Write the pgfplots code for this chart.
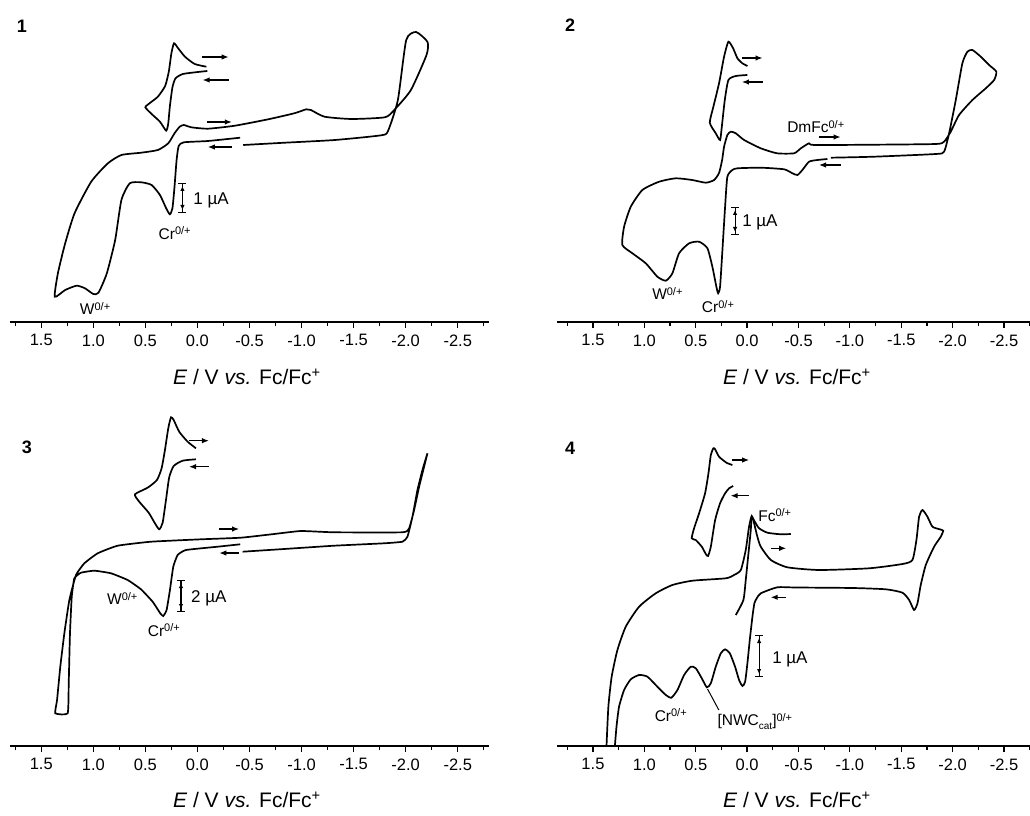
\documentclass[border=0pt]{standalone}
\usepackage{pgfplots}
\pgfplotsset{compat=1.18}
\usepackage{fontspec}
\setmainfont{Liberation Sans}
\usetikzlibrary{arrows.meta}

\pgfplotsset{
 cvaxis/.style={
  scale only axis,
  x dir=reverse,
  xmin=-2.8,
  axis x line=bottom,
  axis y line=none,
  x axis line style={-, line width=1.3pt},
  xtick={-2.5,-2,-1.5,-1,-0.5,0,0.5,1,1.5},
  xticklabels={-2.5,-2.0,-1.5,-1.0,-0.5,0.0,0.5,1.0,1.5},
  minor xtick={-2.75,-2.25,-1.75,-1.25,-0.75,-0.25,0.25,0.75,1.25,1.75},
  tick align=outside,
  major tick length=6pt, minor tick length=4pt,
  every tick/.style={line width=1.2pt, black},
  xticklabel style={font=\fontsize{16.5}{19}\selectfont, yshift=-3pt},
  ymin=0,
 },
 cv/.style={line width=1.7pt, black, smooth, tension=0.35, mark=none},
}
\tikzset{
 arr/.style={-{Latex[length=7pt,width=5.5pt]}, line width=1.2pt},
 lab/.style={anchor=west, font=\fontsize{15.5}{17}\selectfont, inner sep=0pt},
 bar/.style={{Bar[width=8pt]}-{Bar[width=8pt]}, line width=1.1pt},
 barh/.style={{Latex[length=5pt,width=4.5pt]}-{Latex[length=5pt,width=4.5pt]}, line width=1.1pt},
 ua/.style={anchor=west, font=\fontsize{17}{19}\selectfont, inner sep=0pt},
}
\newcommand{\etitle}{{\itshape E} / V {\itshape vs.} Fc/Fc\textsuperscript{+}}
\newcommand{\supx}[1]{\raisebox{0.55ex}{\fontsize{11}{12}\selectfont #1}}

\begin{document}
\begin{tikzpicture}[x=1pt,y=1pt]
\useasboundingbox (0,0) rectangle (1030,815);

% ---------------- Panel 1 ----------------
\begin{axis}[cvaxis, at={(10pt,493pt)}, xmax=1.8, width=479pt, ymax=300, height=300pt]
\addplot[cv] coordinates {(-0.44,177) (-0.84,179.3) (-1.32,182) (-1.765,186.7) (-1.83,191) (-1.925,222) (-2.005,282) (-2.10,290) (-2.21,280) (-2.20,267) (-2.05,232) (-1.89,212) (-1.80,204.7) (-1.48,203) (-1.22,205.3) (-1.09,212) (-1.045,212.7) (-0.93,208.7) (-0.68,202.7) (-0.36,196.3) (-0.10,193.3) (0.06,194.7) (0.13,197) (0.17,195.3) (0.22,188.7) (0.28,178.7) (0.38,172) (0.54,169.3) (0.73,167) (0.86,158.7) (1.02,140.3) (1.18,108.7) (1.27,78.7) (1.34,48.7) (1.37,25.3) (1.27,32) (1.16,36.3) (1.08,33.7) (1.00,28) (0.95,29.3) (0.87,48.7) (0.79,82) (0.73,122) (0.65,138.7) (0.54,139.7) (0.44,137) (0.36,127) (0.30,113.7) (0.265,107.7) (0.24,113.7) (0.22,135.3) (0.20,162) (0.18,176) (0.13,179.7) (-0.10,181) (-0.41,184.3)};
\addplot[cv] coordinates {(-0.086,255.3) (0.026,258) (0.12,265.3) (0.185,273.7) (0.225,278.7) (0.25,268.7) (0.275,250.3) (0.31,236) (0.38,225.3) (0.46,218.7) (0.50,214.7) (0.44,208) (0.36,200.3) (0.30,191.3) (0.28,198.7) (0.265,215.3) (0.24,234.7) (0.21,243.7) (0.14,248) (-0.005,250) (-0.095,251)};
\draw[arr] (axis cs:-0.04,265) -- (axis cs:-0.30,265);
\draw[arr] (axis cs:-0.30,242) -- (axis cs:-0.05,242);
\draw[arr] (axis cs:-0.09,200) -- (axis cs:-0.33,200);
\draw[arr] (axis cs:-0.33,175) -- (axis cs:-0.10,175);
\draw[bar] (axis cs:0.144,108.7) -- (axis cs:0.144,139.3);
\draw[barh] (axis cs:0.144,112) -- (axis cs:0.144,136);
\node[ua] at (axis cs:0.04,122) {1 µA};
\node[lab] at (axis cs:0.374,88.7) {Cr\supx{0/+}};
\node[lab] at (axis cs:1.13,13.7) {W\supx{0/+}};
\end{axis}

% ---------------- Panel 2 ----------------
\begin{axis}[cvaxis, at={(557pt,493pt)}, xmax=1.85, width=477.8pt, ymax=300, height=300pt]
\addplot[cv] coordinates {(-0.815,164.3) (-1.236,165.3) (-1.836,168) (-1.917,170.3) (-1.966,188.7) (-2.031,222) (-2.095,258.7) (-2.144,270.3) (-2.193,272) (-2.274,265.3) (-2.355,257) (-2.426,250.3) (-2.404,242) (-2.323,233.7) (-2.193,222) (-2.063,207) (-1.982,190.3) (-1.917,180.3) (-1.836,178) (-1.236,177.3) (-0.652,177) (-0.603,178.7) (-0.523,173.7) (-0.457,168.7) (-0.292,168.7) (-0.133,173.7) (0.029,182) (0.110,188.7) (0.159,190.3) (0.192,187) (0.224,175.3) (0.243,162) (0.273,149) (0.321,142) (0.402,139.3) (0.535,142) (0.694,143.7) (0.856,140.3) (1.019,132) (1.132,115.3) (1.197,95.3) (1.214,77) (1.116,68.7) (0.986,58.7) (0.873,45.3) (0.791,41.3) (0.727,48.7) (0.662,68.7) (0.564,78.7) (0.467,80.3) (0.386,73.7) (0.338,55.3) (0.299,35.3) (0.282,28.7) (0.263,35.3) (0.240,72) (0.214,115.3) (0.192,145.3) (0.143,152) (0.094,153.7) (-0.133,154.3) (-0.360,152.7) (-0.441,148.7) (-0.490,147) (-0.538,152) (-0.603,160.3) (-0.684,162) (-0.782,163)};
\addplot[cv] coordinates {(-0.003,247) (0.110,246) (0.182,242) (0.217,222) (0.246,195.3) (0.263,182) (0.305,188.7) (0.363,199.3) (0.328,215.3) (0.273,238.7) (0.224,265.3) (0.182,280.3) (0.136,273.7) (0.094,263.7) (0.046,258.7) (-0.003,256)};
\draw[arr] (axis cs:0.05,264) -- (axis cs:-0.15,264);
\draw[arr] (axis cs:-0.15,240) -- (axis cs:0.05,240);
\draw[arr] (axis cs:-0.70,185) -- (axis cs:-0.91,185);
\draw[arr] (axis cs:-0.91,157) -- (axis cs:-0.70,157);
\draw[bar] (axis cs:0.117,87) -- (axis cs:0.117,115);
\draw[barh] (axis cs:0.117,90) -- (axis cs:0.117,112);
\node[ua] at (axis cs:0.049,100) {1 µA};
\node[lab] at (axis cs:-0.389,195.3) {DmFc\supx{0/+}};
\node[lab] at (axis cs:0.925,28.7) {W\supx{0/+}};
\node[lab] at (axis cs:0.441,15.3) {Cr\supx{0/+}};
\end{axis}

% ---------------- Panel 3 ----------------
\begin{axis}[cvaxis, at={(10pt,69pt)}, xmax=1.8, width=479pt, ymax=340, height=340pt]
\addplot[cv, tension=0.25] coordinates {(-0.434,194.3) (-0.833,197) (-1.313,200.3) (-1.793,202.7) (-1.969,204.3) (-2.017,209.3) (-2.065,229.3) (-2.113,256) (-2.161,276) (-2.209,292.7) (-2.177,279.3) (-2.129,259.3) (-2.081,236) (-2.033,217.7) (-1.969,213.7) (-1.313,213.7) (-0.993,215) (-0.737,212) (-0.417,208.3) (-0.034,206.7) (0.446,204.3) (0.766,200.3) (0.958,192.7) (1.086,182.7) (1.166,171) (1.230,146) (1.278,112.7) (1.317,79.3) (1.348,46) (1.365,32.7) (1.246,32.7) (1.236,62.7) (1.224,112.7) (1.207,149.3) (1.182,167.7) (1.118,173.3) (0.990,175.3) (0.830,172.7) (0.670,166) (0.542,156.7) (0.430,144.3) (0.357,132.7) (0.328,130) (0.296,136) (0.264,156) (0.232,179.3) (0.190,191) (0.110,196) (-0.194,199.3) (-0.411,201.7)};
\addplot[cv] coordinates {(0.014,297.7) (0.094,304.3) (0.175,314.3) (0.228,326) (0.254,328.7) (0.280,317.7) (0.312,296) (0.344,277.7) (0.389,266) (0.478,258.3) (0.600,251.7) (0.559,244.3) (0.468,233.3) (0.408,222.7) (0.367,216.7) (0.334,223.3) (0.302,246) (0.271,268.7) (0.228,280) (0.142,285.3) (0.014,286.7)};
\draw[arr] (axis cs:0.08,305.3) -- (axis cs:-0.11,305.3);
\draw[arr] (axis cs:-0.11,279.3) -- (axis cs:0.08,279.3);
\draw[arr] (axis cs:-0.21,217) -- (axis cs:-0.40,217);
\draw[arr] (axis cs:-0.40,193) -- (axis cs:-0.21,193);
\draw[bar] (axis cs:0.158,134) -- (axis cs:0.158,166);
\draw[barh] (axis cs:0.158,137) -- (axis cs:0.158,163);
\node[ua] at (axis cs:0.062,148) {2 µA};
\node[lab] at (axis cs:0.869,147.7) {W\supx{0/+}};
\node[lab] at (axis cs:0.478,116) {Cr\supx{0/+}};
\end{axis}

% ---------------- Panel 4 ----------------
\begin{axis}[cvaxis, at={(557pt,69pt)}, xmax=1.85, width=477.8pt, ymax=310, height=310pt]
\addplot[cv] coordinates {(1.288,-2) (1.271,19.3) (1.246,39.3) (1.197,56) (1.132,66.7) (1.051,71) (0.970,69.3) (0.873,59.3) (0.791,51) (0.737,48.3) (0.678,56) (0.613,71) (0.548,79.3) (0.499,77.7) (0.441,67.7) (0.392,58.7) (0.353,62.7) (0.305,79.3) (0.256,92.7) (0.214,96.7) (0.168,92.7) (0.117,79.3) (0.078,66) (0.045,60) (0.019,64.3) (-0.003,82.7) (-0.026,106) (-0.052,129.3) (-0.071,142.7) (-0.094,147.7) (-0.133,152.7) (-0.295,158.7) (-0.474,158.5) (-1.025,158) (-1.350,156.7) (-1.512,153.3) (-1.577,146) (-1.625,136) (-1.658,142.7) (-1.690,161) (-1.739,181) (-1.820,199.3) (-1.885,209.3) (-1.908,215.3) (-1.875,216.7) (-1.804,219.3) (-1.755,229.3) (-1.707,236) (-1.674,229.3) (-1.648,206) (-1.609,186) (-1.512,182) (-1.187,177.7) (-0.701,176) (-0.392,178.7) (-0.231,186) (-0.133,199.3) (-0.100,209.3) (-0.068,222.7) (-0.045,230) (-0.019,219.3) (0.013,196) (0.061,176) (0.127,171) (0.207,167.7) (0.532,165.3) (0.727,161) (0.889,152.7) (1.051,139.3) (1.181,119.3) (1.262,96) (1.318,69.3) (1.350,39.3) (1.369,-2)};
\addplot[cv] coordinates {(0.110,131) (0.036,146) (0.013,166) (-0.010,189.3) (-0.036,216) (-0.045,229) (-0.075,224.3) (-0.117,217.7) (-0.198,213.3) (-0.328,211.7) (-0.425,212)};
\addplot[cv] coordinates {(0.143,281) (0.201,283.3) (0.273,289.3) (0.311,296.7) (0.328,297.7) (0.353,291) (0.376,272.7) (0.409,252.7) (0.467,232.7) (0.516,217.7) (0.539,207.7) (0.500,206) (0.441,199.3) (0.402,192) (0.380,190) (0.353,199.3) (0.311,226) (0.263,242.7) (0.214,252.7) (0.175,257.7) (0.136,260)};
\draw[arr] (axis cs:0.143,286) -- (axis cs:-0.02,286);
\draw[arr] (axis cs:-0.02,250.3) -- (axis cs:0.16,250.3);
\draw[arr] (axis cs:-0.23,197.7) -- (axis cs:-0.38,197.7);
\draw[arr] (axis cs:-0.38,148.7) -- (axis cs:-0.23,148.7);
\draw[bar] (axis cs:-0.117,69) -- (axis cs:-0.117,111);
\draw[barh] (axis cs:-0.117,72) -- (axis cs:-0.117,108);
\node[ua] at (axis cs:-0.243,87) {1 µA};
\draw[line width=1pt] (axis cs:0.385,57) -- (axis cs:0.275,36);
\node[lab] at (axis cs:-0.107,231) {Fc\supx{0/+}};
\node[lab, anchor=center] at (axis cs:0.743,31) {Cr\supx{0/+}};
\node[lab] at (axis cs:0.289,24.3) {[NWC\raisebox{-0.5ex}{\fontsize{10}{11}\selectfont cat}]\supx{0/+}};
\end{axis}

% titles and panel numbers
\node[font=\fontsize{21}{23}\selectfont] at (247,438) {\etitle};
\node[font=\fontsize{21}{23}\selectfont] at (797,438) {\etitle};
\node[font=\fontsize{21}{23}\selectfont] at (247,15) {\etitle};
\node[font=\fontsize{21}{23}\selectfont] at (797,15) {\etitle};
\node[font=\bfseries\fontsize{18}{20}\selectfont] at (22,789) {1};
\node[font=\bfseries\fontsize{18}{20}\selectfont] at (570,790) {2};
\node[font=\bfseries\fontsize{18}{20}\selectfont] at (27,368) {3};
\node[font=\bfseries\fontsize{18}{20}\selectfont] at (570,367) {4};
\end{tikzpicture}
\end{document}
